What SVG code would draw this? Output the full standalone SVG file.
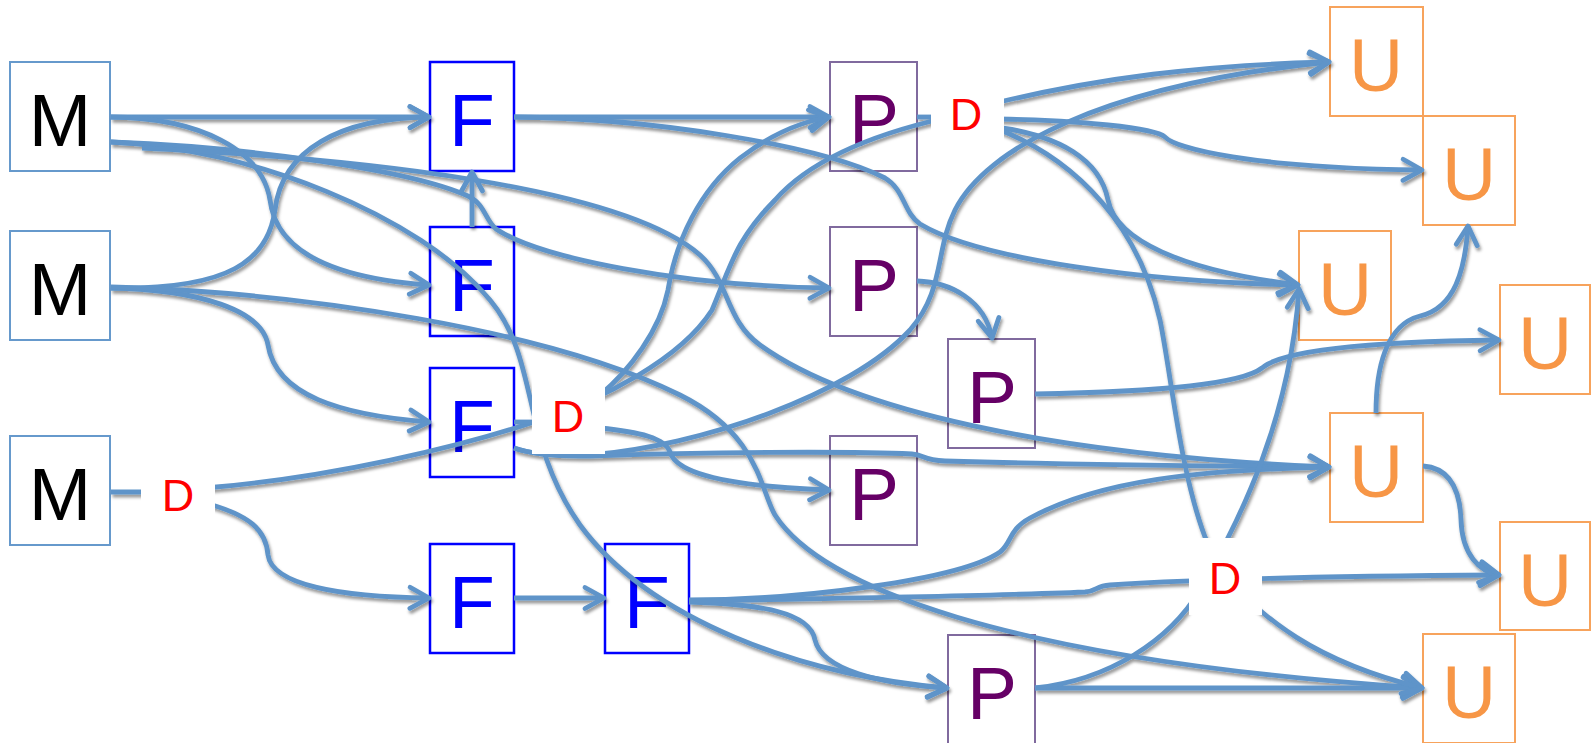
<svg xmlns="http://www.w3.org/2000/svg" width="1592" height="743" viewBox="0 0 1592 743">
  <style>
    .box { fill: #ffffff; stroke-width: 2; }
    .m { stroke: #6699cc; }
    .f { stroke: #0000ff; stroke-width: 2.5; }
    .p { stroke: #806a9e; }
    .u { stroke: #f7a35c; }
    .big { font-family: "Liberation Sans", Arial, sans-serif; font-size: 75px; text-anchor: middle; }
    .tm { fill: #000000; }
    .tf { fill: #0000ff; }
    .tp { fill: #660066; }
    .tu { fill: #f79646; }
    .dbox { fill: #ffffff; stroke: none; }
    .dtxt { font-family: "Liberation Sans", Arial, sans-serif; font-size: 45px; text-anchor: middle; fill: #ff0000; }
    .c { fill: none; stroke: #5e94c9; stroke-width: 4.8; stroke-linecap: butt; stroke-linejoin: round; }
    .a { marker-end: url(#arrow); }
  </style>
  <defs>
    <marker id="arrow" markerUnits="userSpaceOnUse" markerWidth="30" markerHeight="30" refX="22" refY="12" orient="auto" overflow="visible">
      <path d="M3,1.5 L22,12 L3,22.5" fill="none" stroke="#5e94c9" stroke-width="4.8" stroke-linecap="round" stroke-linejoin="round"/>
    </marker>
    <filter id="shadow" x="-5%" y="-5%" width="110%" height="115%">
      <feDropShadow dx="1.5" dy="3" stdDeviation="1.8" flood-color="#000000" flood-opacity="0.4"/>
    </filter>
  </defs>

  <!-- nodes -->
  <g id="nodes">
    <g id="m1"><rect class="box m" x="10" y="62" width="100" height="109"/><text class="big tm" x="60" y="146">M</text></g>
    <g id="m2"><rect class="box m" x="10" y="231" width="100" height="109"/><text class="big tm" x="60" y="315">M</text></g>
    <g id="m3"><rect class="box m" x="10" y="436" width="100" height="109"/><text class="big tm" x="60" y="520">M</text></g>

    <g id="f1"><rect class="box f" x="430" y="62" width="84" height="109"/><text class="big tf" x="472" y="146">F</text></g>
    <g id="f2"><rect class="box f" x="430" y="227" width="84" height="109"/><text class="big tf" x="472" y="311">F</text></g>
    <g id="f3"><rect class="box f" x="430" y="368" width="84" height="109"/><text class="big tf" x="472" y="452">F</text></g>
    <g id="f4"><rect class="box f" x="430" y="544" width="84" height="109"/><text class="big tf" x="472" y="628">F</text></g>
    <g id="f5"><rect class="box f" x="605" y="544" width="84" height="109"/><text class="big tf" x="647" y="628">F</text></g>

    <g id="p1"><rect class="box p" x="830" y="62" width="87" height="109"/><text class="big tp" x="874" y="146">P</text></g>
    <g id="p2"><rect class="box p" x="830" y="227" width="87" height="109"/><text class="big tp" x="874" y="311">P</text></g>
    <g id="p3"><rect class="box p" x="948" y="339" width="87" height="109"/><text class="big tp" x="992" y="423">P</text></g>
    <g id="p4"><rect class="box p" x="830" y="436" width="87" height="109"/><text class="big tp" x="874" y="520">P</text></g>
    <g id="p5"><rect class="box p" x="948" y="635" width="87" height="109"/><text class="big tp" x="992" y="719">P</text></g>

    <g id="u1"><rect class="box u" x="1330" y="7" width="93" height="109"/><text class="big tu" x="1376" y="91">U</text></g>
    <g id="u2"><rect class="box u" x="1423" y="116" width="92" height="109"/><text class="big tu" x="1469" y="200">U</text></g>
    <g id="u3"><rect class="box u" x="1299" y="231" width="92" height="109"/><text class="big tu" x="1345" y="315">U</text></g>
    <g id="u4"><rect class="box u" x="1500" y="285" width="90" height="109"/><text class="big tu" x="1545" y="369">U</text></g>
    <g id="u5"><rect class="box u" x="1330" y="413" width="93" height="109"/><text class="big tu" x="1376" y="497">U</text></g>
    <g id="u6"><rect class="box u" x="1500" y="522" width="90" height="108"/><text class="big tu" x="1545" y="606">U</text></g>
    <g id="u7"><rect class="box u" x="1423" y="634" width="92" height="109"/><text class="big tu" x="1469" y="718">U</text></g>
  </g>

  <!-- connectors -->
  <g id="connectors" filter="url(#shadow)">
    <!-- from M1 -->
    <path class="c a" d="M111,117 L429,117"/>
    <path class="c a" d="M111,117 C200,118 262,150 270,200 C276,250 330,278 429,285"/>
    <path class="c a" d="M111,142 C250,148 420,215 490,300 C540,360 520,440 580,525 C650,620 800,675 947,688"/>
    <path class="c a" d="M111,142 C250,147 410,170 468,196 C485,204 485,220 496,229 C540,258 680,286 829,288"/>
    <path class="c a" d="M142,148 C350,158 620,185 700,255 C730,282 725,320 760,345 C850,410 1050,455 1329,467"/>
    <!-- from M2 -->
    <path class="c a" d="M111,288 C230,290 268,260 275,210 C282,150 340,118 429,117"/>
    <path class="c a" d="M111,288 C200,290 262,310 268,345 C276,395 340,415 429,422"/>
    <path class="c a" d="M111,287 C300,292 550,330 680,395 C760,435 760,490 775,515 C820,585 1000,660 1422,688"/>
    <!-- from M3 through D -->
    <path class="c" d="M111,492 L150,492"/>
    <path class="c a" d="M205,503 C250,515 266,530 268,555 C272,585 340,597 429,598"/>
    <path class="c" d="M205,488 C330,478 460,447 540,420 C600,400 680,360 712,310 C730,268 735,240 775,200 C810,160 870,135 945,118"/>
    <!-- from F1, F2 -->
    <path class="c a" d="M514,117 L829,117"/>
    <path class="c a" d="M514,117 C650,118 820,145 885,178 C905,190 903,212 920,224 C980,260 1150,282 1298,285"/>
    <path class="c a" d="M472,227 L472,172"/>
    <!-- from F3 through D -->
    <path class="c" d="M514,422 L545,422"/>
    <path class="c a" d="M600,395 C630,370 660,330 668,290 C676,240 700,190 740,158 C770,135 800,122 829,117"/>
    <path class="c a" d="M600,428 C640,432 665,438 670,452 C676,472 720,486 829,490"/>
    <path class="c a" d="M514,448 Q540,457 590,456 C700,452 850,451 912,454 C925,455 922,460 945,461 C1050,464 1200,466 1329,467"/>
    <path class="c a" d="M514,448 Q540,457 590,455 C700,446 850,395 910,330 C945,290 935,250 955,210 C985,150 1100,85 1329,62"/>
    <!-- from F4, F5 -->
    <path class="c a" d="M514,598 L604,598"/>
    <path class="c a" d="M689,602 C760,604 810,612 815,640 C822,670 880,684 947,688"/>
    <path class="c a" d="M689,600 C800,600 960,580 1000,552 C1012,543 1008,530 1030,518 C1100,480 1200,470 1329,467"/>
    <path class="c a" d="M689,601 C850,598 1000,596 1085,592 C1098,591 1095,586 1110,585 C1200,579 1350,576 1499,575"/>
    <!-- from P nodes -->
    <path class="c" d="M917,117 L940,117"/>
    <path class="c a" d="M917,281 C950,282 985,300 992,338"/>
    <path class="c a" d="M1035,394 C1150,392 1240,385 1262,368 C1280,352 1350,342 1499,340"/>
    <path class="c a" d="M1035,688 L1422,688"/>
    <path class="c a" d="M1035,688 C1110,680 1170,640 1200,590 C1240,520 1290,420 1299,289"/>
    <!-- from D beside P1 -->
    <path class="c a" d="M995,103 C1100,78 1200,65 1329,62"/>
    <path class="c a" d="M995,119 C1080,120 1155,128 1165,137 C1175,148 1250,168 1422,170"/>
    <path class="c a" d="M995,127 C1060,135 1100,160 1108,200 C1116,240 1180,270 1298,285"/>
    <path class="c" d="M995,128 C1080,160 1140,230 1160,320 C1172,380 1180,470 1205,537 L1220,570"/>
    <!-- from D near U row -->
    <path class="c a" d="M1225,577 C1265,618 1310,660 1422,688"/>
    <!-- between U nodes -->
    <path class="c a" d="M1376,413 C1376,370 1385,325 1420,316 C1455,308 1465,270 1468,226"/>
    <path class="c a" d="M1423,466 C1450,468 1460,490 1461,520 C1462,555 1480,572 1499,575"/>
  </g>

  <!-- D labels sit above the connectors -->
  <g id="d1"><rect class="dbox" x="141" y="455" width="74" height="77"/><text class="dtxt" x="178" y="511">D</text></g>
  <g id="d2"><rect class="dbox" x="931" y="76" width="73" height="77"/><text class="dtxt" x="966" y="130">D</text></g>
  <g id="d3"><rect class="dbox" x="532" y="377" width="73" height="77"/><text class="dtxt" x="568" y="432">D</text></g>
  <g id="d4"><rect class="dbox" x="1189" y="538" width="73" height="77"/><text class="dtxt" x="1225" y="594">D</text></g>
</svg>
